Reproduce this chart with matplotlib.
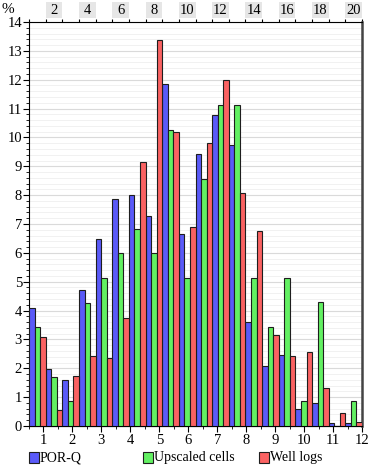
import numpy as np
import matplotlib
matplotlib.use("Agg")
import matplotlib.pyplot as plt
from matplotlib.patches import Rectangle
from matplotlib.ticker import MultipleLocator

plt.rcParams["font.family"] = ["Liberation Serif", "DejaVu Serif"]
plt.rcParams["font.size"] = 9.5

W, H = 368, 467
BLUE, GREEN, RED = "#5a5af8", "#62f062", "#fa6262"
EDGE = "#1e1e1e"

# histogram bins (top axis = bin number, bottom axis = porosity)
bins = np.arange(1, 21)
por_q = [4.10, 1.96, 1.60, 4.72, 6.48, 7.86, 8.01, 7.29, 11.86, 6.66,
         9.44, 10.77, 9.74, 3.59, 2.07, 2.47, 0.58, 0.81, 0.09, 0.09]
upscaled = [3.43, 1.71, 0.86, 4.27, 5.13, 6.00, 6.84, 6.00, 10.26, 5.13,
            8.57, 11.12, 11.12, 5.13, 3.44, 5.13, 0.88, 4.28, 0.00, 0.88]
well_logs = [3.07, 0.57, 1.74, 2.43, 2.35, 3.73, 9.16, 13.39, 10.20, 6.88,
             9.80, 12.00, 8.08, 6.76, 3.14, 2.43, 2.57, 1.30, 0.45, 0.15]
series = [("POR-Q", por_q, BLUE), ("Upscaled cells", upscaled, GREEN),
          ("Well logs", well_logs, RED)]
top_labels = list(range(2, 21, 2))
bottom_ticks = list(range(1, 13))
TICK_FS = 10.5


def bin_to_por(b):
    return 0.5 + (b - 1) * 0.575


def por_to_bin(p):
    return 1 + (p - 0.5) / 0.575


fig = plt.figure(figsize=(W / 100, H / 100), dpi=100, facecolor="white")
ax = fig.add_axes([29 / W, 1 - 426 / H, 333 / W, 404 / H])

for i, (name, vals, color) in enumerate(series):
    ax.bar(bins + (i + 0.5) / 3, vals, width=1 / 3, color=color,
           edgecolor=EDGE, linewidth=0.8, label=name, zorder=3)

ax.set_xlim(1, 21)
ax.set_ylim(0, 14)

# top axis: bin numbers in grey boxes
ax.xaxis.tick_top()
ax.set_xticks(range(1, 22))
ax.tick_params(axis="x", which="major", direction="out", length=2.5,
               labeltop=False, labelbottom=False, top=True, bottom=False)
xt = ax.get_xaxis_transform()
for k in top_labels:
    ax.add_patch(Rectangle((k, 1.0099), 1, 0.0396, transform=xt,
                           facecolor="#e6e6e6", edgecolor="none", clip_on=False))
    ax.text(k + 0.5, 1.0297, str(k), transform=xt, ha="center", va="center",
            fontsize=TICK_FS)

# bottom axis: porosity
sec = ax.secondary_xaxis("bottom", functions=(bin_to_por, por_to_bin))
sec.set_xticks(bottom_ticks)
sec.xaxis.set_minor_locator(MultipleLocator(0.5))
sec.tick_params(which="major", length=4, pad=2, labelsize=TICK_FS)
sec.tick_params(which="minor", length=2)

ax.yaxis.set_major_locator(MultipleLocator(1))
ax.yaxis.set_minor_locator(MultipleLocator(0.2))
ax.tick_params(axis="y", which="major", length=4, pad=1, labelsize=TICK_FS)
ax.tick_params(axis="y", which="minor", length=2)
ax.grid(axis="y", which="major", color="#dadada", lw=0.8)
ax.grid(axis="y", which="minor", color="#efefef", lw=0.6)
ax.set_axisbelow(True)

ax.spines["right"].set_color("#444444")
ax.spines["right"].set_linewidth(1.8)

fig.text(2 / W, 1 - 3 / H, "%", va="top", ha="left", fontsize=11)

# legend row
for x0, (name, vals, color) in zip([29, 143, 259], series):
    fig.patches.append(Rectangle((x0 / W, 1 - 463 / H), 10 / W, 11 / H,
                                 transform=fig.transFigure, facecolor=color,
                                 edgecolor=EDGE, lw=0.8))
    fig.text((x0 + 11) / W, 1 - 457.5 / H, name, va="center", ha="left",
             fontsize=10)

fig.savefig("out.png", dpi=100, facecolor="white")
